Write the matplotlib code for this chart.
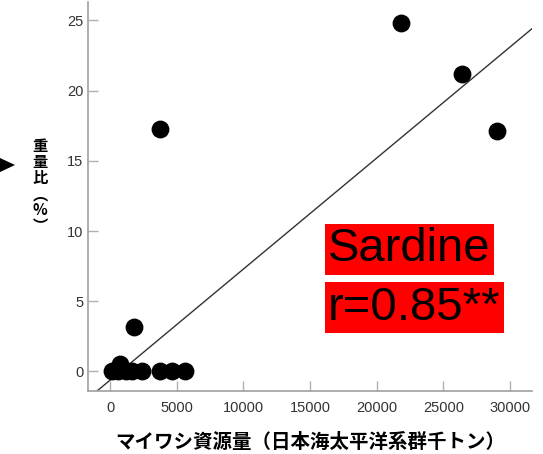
import numpy as np
import matplotlib.pyplot as plt
from matplotlib.patches import Polygon

# -----------------------------
# Data: sardine stock vs. weight ratio
# -----------------------------
stock = [150, 600, 750, 1200, 1650, 1800, 2400, 3750, 3750, 4650, 5600,
         21800, 26400, 29025]
ratio = [0, 0, 0.5, 0, 0, 3.2, 0, 17.3, 0, 0, 0, 24.8, 21.2, 17.1]

# fitted line (y = a + b*x)
fit_intercept = -0.62
fit_slope = 0.000791

x_ticks = [0, 5000, 10000, 15000, 20000, 25000, 30000]
y_ticks = [0, 5, 10, 15, 20, 25]

species = "Sardine"
r_label = "r=0.85**"
x_label = "マイワシ資源量（日本海太平洋系群千トン）"
y_label = "重\n量\n比\n︵\n%\n︶"

CJK = ["Noto Sans CJK JP", "DejaVu Sans"]
plt.rcParams["font.family"] = ["Liberation Sans", "DejaVu Sans"]

# -----------------------------
# Plot
# -----------------------------
fig = plt.figure(figsize=(5.43, 4.54), dpi=100)
ax = fig.add_axes([0.1621, 0.1388, 0.8177, 0.857])

xlim = (-1650, 31650)
ylim = (-1.39, 26.32)

ax.scatter(stock, ratio, s=165, color="black", zorder=3, linewidths=0)

xl = np.array(xlim)
ax.plot(xl, fit_intercept + fit_slope * xl, color="#333333", linewidth=1.0, zorder=2)

ax.set_xlim(*xlim)
ax.set_ylim(*ylim)
ax.set_xticks(x_ticks)
ax.set_yticks(y_ticks)

for side in ["top", "right"]:
    ax.spines[side].set_visible(False)
for side in ["left", "bottom"]:
    ax.spines[side].set_color("#a0a0a0")
    ax.spines[side].set_linewidth(1.2)

ax.tick_params(axis="both", direction="in", length=7, width=1.0,
               color="#b0b0b0", labelcolor="#333333", labelsize=10.5)
ax.tick_params(axis="x", pad=7)
ax.tick_params(axis="y", pad=3.5)

ax.set_xlabel(x_label, family=CJK, fontsize=14, fontweight="bold",
              labelpad=13)
fig.text(40 / 543, 1 - 186 / 454, y_label, family=CJK, fontsize=11,
         fontweight="bold", ha="center", va="center", linespacing=1.0)

# species / correlation labels on red boxes
box = dict(facecolor="#ff0000", edgecolor="none", pad=2.5)
ax.text(0.5405, 0.333, species, transform=ax.transAxes, fontsize=34,
        color="black", ha="left", va="baseline", bbox=box)
ax.text(0.5405, 0.183, r_label, transform=ax.transAxes, fontsize=34,
        color="black", ha="left", va="baseline", bbox=box)

# marker arrow on the left edge
fig.patches.append(Polygon([[0.0, 0.652], [0.0, 0.621], [0.0276, 0.6366]],
                           closed=True, transform=fig.transFigure,
                           facecolor="black", edgecolor="none"))

fig.savefig("out.png", dpi=100)
